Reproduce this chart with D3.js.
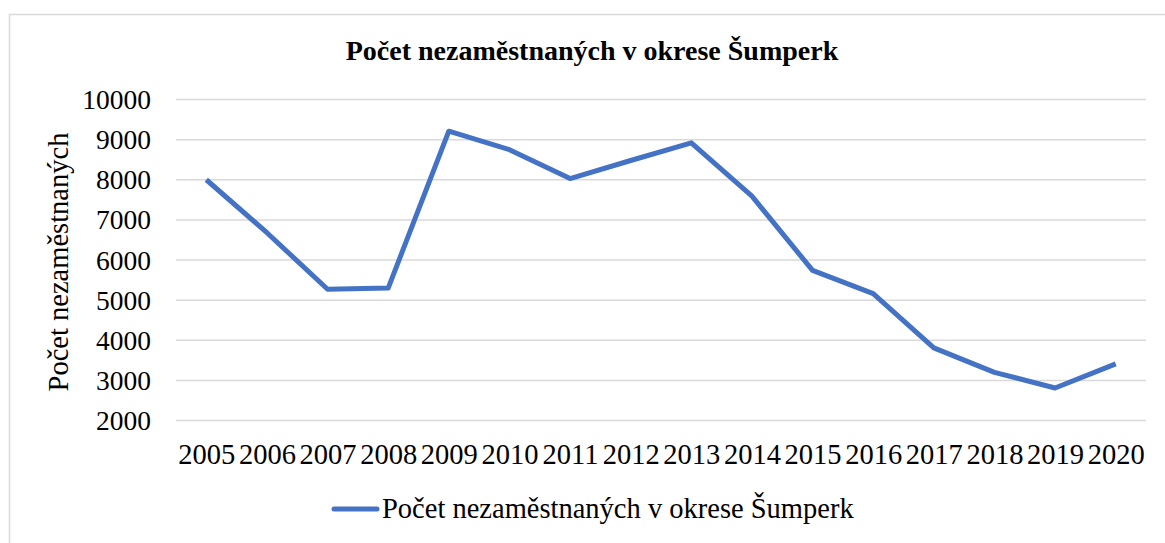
<!DOCTYPE html>
<head>
  <meta charset="utf-8">
  <script src="https://d3js.org/d3.v7.min.js"></script>
  <style>
  body { margin: 0; background: #fff; }
  text { font-family: "Liberation Serif", "Times New Roman", serif; fill: #000; }
  .grid line { stroke: #d9d9d9; stroke-width: 1.5px; }
  </style>
</head>
<body>
<svg width="1165" height="543"></svg>

<script type="text/javascript">
// data
var years = ["2005", "2006", "2007", "2008", "2009", "2010", "2011", "2012",
             "2013", "2014", "2015", "2016", "2017", "2018", "2019", "2020"];
var unemployed = [8000, 6680, 5270, 5300, 9210, 8750, 8030, 8480,
                  8920, 7590, 5740, 5160, 3810, 3200, 2810, 3410];
var yTicks = [2000, 3000, 4000, 5000, 6000, 7000, 8000, 9000, 10000];
var title = "Počet nezaměstnaných v okrese Šumperk";
var yLabel = "Počet nezaměstnaných";

var svg = d3.select("svg");

// chart border
svg.append("rect")
    .attr("x", 9.5).attr("y", 14.5)
    .attr("width", 1165).attr("height", 540)
    .attr("fill", "#fff")
    .attr("stroke", "#d9d9d9")
    .attr("stroke-width", 1.5);

var plot = { left: 176, right: 1146, top: 99.5, bottom: 420.5 };

var x = d3.scalePoint()
    .domain(years)
    .range([plot.left, plot.right])
    .padding(0.5);

var y = d3.scaleLinear()
    .domain([2000, 10000])
    .range([plot.bottom, plot.top]);

// gridlines
svg.append("g")
    .attr("class", "grid")
    .selectAll("line")
    .data(yTicks)
    .enter().append("line")
    .attr("x1", plot.left).attr("x2", plot.right)
    .attr("y1", function(d) { return y(d); })
    .attr("y2", function(d) { return y(d); });

// y axis labels
var yAxis = svg.append("g")
    .attr("transform", "translate(151,0)")
    .call(d3.axisLeft(y).tickValues(yTicks).tickSize(0).tickPadding(0)
      .tickFormat(d3.format("d")));
yAxis.select(".domain").remove();
yAxis.selectAll("text")
    .style("font-family", "'Liberation Serif', serif")
    .style("font-size", "27.5px")
    .attr("fill", "#000")
    .attr("dy", "0.33em");

// x axis labels
var xAxis = svg.append("g")
    .attr("transform", "translate(0,464)")
    .call(d3.axisBottom(x).tickSize(0).tickPadding(0));
xAxis.select(".domain").remove();
xAxis.selectAll("text")
    .style("font-family", "'Liberation Serif', serif")
    .style("font-size", "28.5px")
    .attr("fill", "#000")
    .attr("dy", "0");

// the line
var line = d3.line()
    .x(function(d, i) { return x(years[i]); })
    .y(function(d) { return y(d); });

svg.append("path")
    .datum(unemployed)
    .attr("d", line)
    .attr("fill", "none")
    .attr("stroke", "#4472c4")
    .attr("stroke-width", 5)
    .attr("stroke-linejoin", "round");

// title
svg.append("text")
    .attr("x", 592).attr("y", 60)
    .attr("text-anchor", "middle")
    .style("font-size", "28px")
    .style("font-weight", "bold")
    .text(title);

// y axis title
svg.append("text")
    .attr("transform", "translate(68,262) rotate(-90)")
    .attr("text-anchor", "middle")
    .style("font-size", "28.5px")
    .text(yLabel);

// legend
svg.append("line")
    .attr("x1", 334).attr("x2", 377)
    .attr("y1", 509).attr("y2", 509)
    .attr("stroke", "#4472c4")
    .attr("stroke-width", 5)
    .attr("stroke-linecap", "round");

svg.append("text")
    .attr("x", 382).attr("y", 518)
    .style("font-size", "28.5px")
    .text(title);
</script>

</body>
</html>
